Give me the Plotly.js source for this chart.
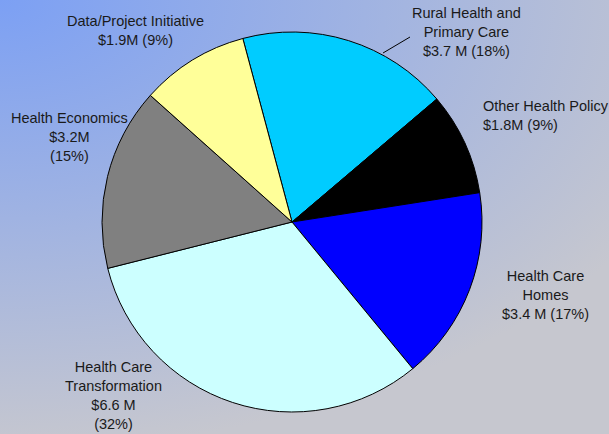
<!DOCTYPE html>
<html>
<head>
<meta charset="utf-8">
<script src="https://cdn.plot.ly/plotly-3.0.1.min.js"></script>
<style>
  html, body { margin: 0; padding: 0; width: 609px; height: 434px; overflow: hidden; }
  body { background: radial-gradient(ellipse 750px 450px at 0px 0px, #7ca0f4 0%, #c6c7cf 100%); }
  #chart { width: 609px; height: 434px; }
</style>
</head>
<body>
<div id="chart"></div>
<script>
// Data (clockwise order, starting from the top)
const categories = [
  "Rural Health and Primary Care",
  "Other Health Policy",
  "Health Care Homes",
  "Health Care Transformation",
  "Health Economics",
  "Data/Project Initiative"
];
const values = [3.7, 1.8, 3.4, 6.6, 3.2, 1.9];   // $ millions
const labelTexts = [
  "Rural Health and<br>Primary Care<br>$3.7 M (18%)",
  "Other Health Policy<br>$1.8M (9%)",
  "Health Care<br>Homes<br>$3.4 M (17%)",
  "Health Care<br>Transformation<br>$6.6 M<br>(32%)",
  "Health Economics<br>$3.2M<br>(15%)",
  "Data/Project Initiative<br>$1.9M (9%)"
];
const colors = ["#00ccff", "#000000", "#0000ff", "#ccffff", "#808080", "#ffff99"];

// Layout helpers (pixel -> paper)
const W = 609, H = 434;
const px = x => x / W;
const py = y => 1 - y / H;

// label positions (pixels) and anchors
const labelPos = [
  {x: 467, y: 32, xa: "center", al: "center"},
  {x: 481, y: 115, xa: "left", al: "left"},
  {x: 545, y: 295, xa: "center", al: "center"},
  {x: 113, y: 395, xa: "center", al: "center"},
  {x: 69, y: 137, xa: "center", al: "center"},
  {x: 135, y: 31, xa: "center", al: "center"}
];

const cx = 292, cy = 222, r = 190;

const trace = {
  type: "pie",
  labels: categories,
  values: values,
  sort: false,
  direction: "clockwise",
  rotation: -15,
  textinfo: "none",
  hoverinfo: "label+value+percent",
  marker: { colors: colors, line: { color: "#000000", width: 1 } },
  domain: { x: [px(cx - r), px(cx + r)], y: [py(cy + r), py(cy - r)] },
  showlegend: false
};

const annotations = labelTexts.map((t, i) => ({
  text: t,
  xref: "paper", yref: "paper",
  x: px(labelPos[i].x), y: py(labelPos[i].y),
  xanchor: labelPos[i].xa, yanchor: "middle",
  align: labelPos[i].al,
  showarrow: false,
  font: { family: "Liberation Sans, Arial, sans-serif", size: 14.5, color: "#1a1a1a" }
}));

const layout = {
  width: W, height: H,
  margin: { l: 0, r: 0, t: 0, b: 0 },
  paper_bgcolor: "rgba(0,0,0,0)",
  plot_bgcolor: "rgba(0,0,0,0)",
  showlegend: false,
  annotations: annotations,
  shapes: [{
    type: "line", xref: "paper", yref: "paper",
    x0: px(383), y0: py(53), x1: px(410), y1: py(37),
    line: { color: "#000000", width: 1 }
  }]
};

Plotly.newPlot("chart", [trace], layout, { displayModeBar: false, staticPlot: true });
</script>
</body>
</html>
